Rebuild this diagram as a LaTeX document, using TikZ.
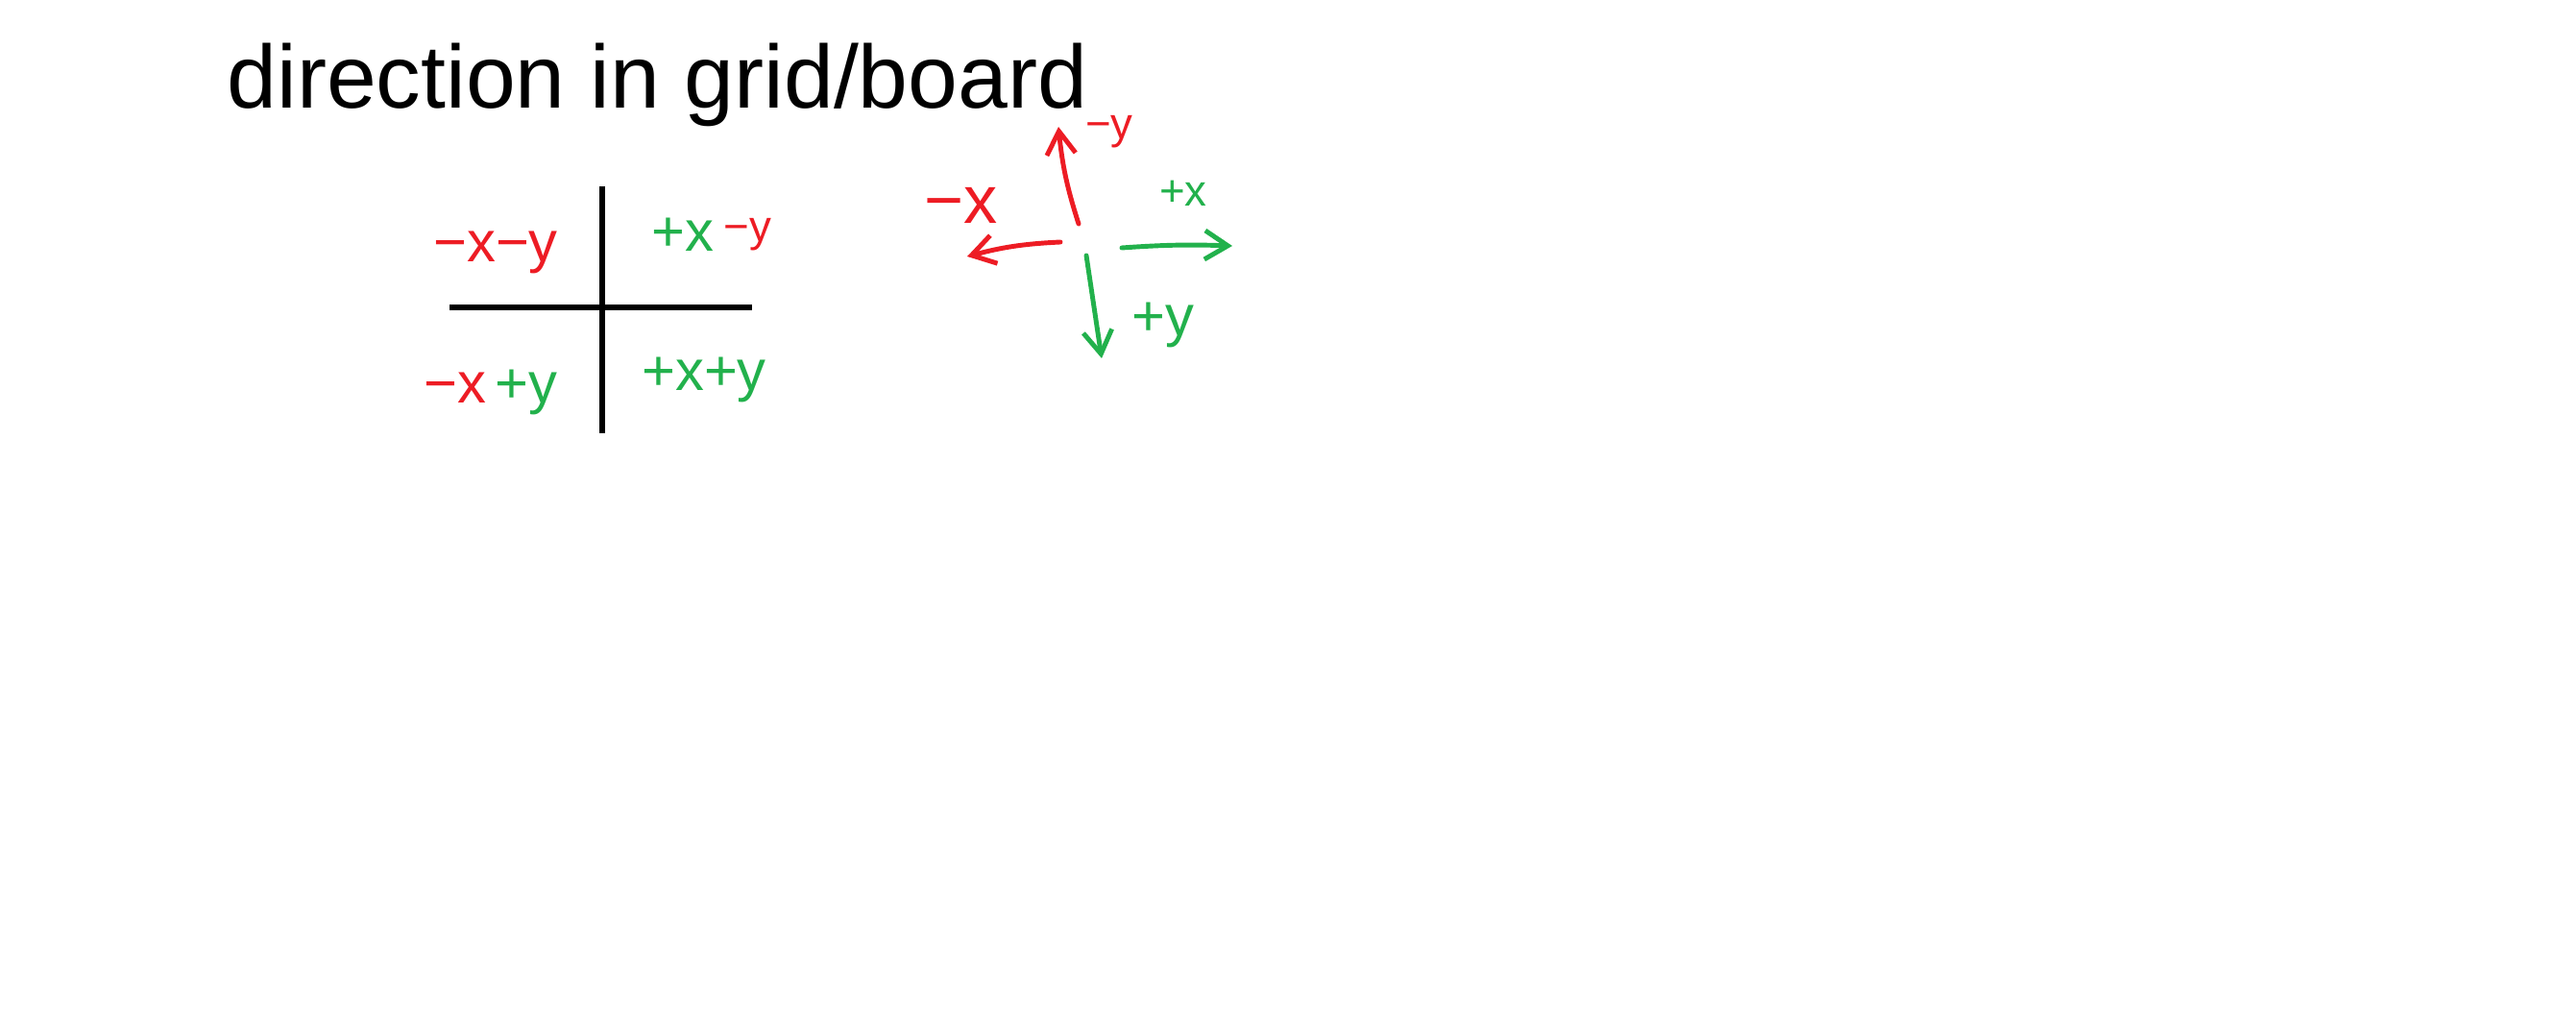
\documentclass[tikz,border=0pt]{standalone}
\usepackage{fontspec}
\setmainfont{Liberation Sans}
\usepackage{xcolor}
\usepackage{tikz}
\usetikzlibrary{arrows.meta}
\definecolor{paintred}{RGB}{237,28,36}
\definecolor{paintgreen}{RGB}{34,177,76}

\begin{document}
\begin{tikzpicture}[
    inkline/.style={line width=1.4pt, line cap=round},
    gridline/.style={line width=1.8pt},
    dirarrow/.style={inkline, -{Straight Barb[length=2.4mm,width=3mm]}},
    quadlabel/.style={inner sep=0pt, anchor=base, font=\fontsize{17}{20}\selectfont},
    smalllabel/.style={inner sep=0pt, anchor=base, font=\fontsize{13}{16}\selectfont}
]
\useasboundingbox[fill=white] (0,0) rectangle (26.82,-10.66);

% title
\node[inner sep=0pt, anchor=base west, font=\fontsize{26.5}{31}\selectfont] (title)
    at (2.36,-1.13) {direction in grid/board};

% quadrant grid
\coordinate (gridtop) at (6.27,-1.94);
\coordinate (gridbottom) at (6.27,-4.51);
\coordinate (gridleft) at (4.68,-3.20);
\coordinate (gridright) at (7.83,-3.20);
\draw[gridline] (gridtop) -- (gridbottom);
\draw[gridline] (gridleft) -- (gridright);

\node[quadlabel, text=paintred] (negxnegy) at (5.16,-2.73) {−x−y};
\node[quadlabel] (posxnegy) at (7.41,-2.62)
    {\textcolor{paintgreen}{+x}\,\textcolor{paintred}{\raisebox{3pt}{\fontsize{13}{16}\selectfont −y}}};
\node[quadlabel] (negxposy) at (5.11,-4.20)
    {\textcolor{paintred}{−x}\,\textcolor{paintgreen}{+y}};
\node[quadlabel, text=paintgreen] (posxposy) at (7.33,-4.07) {+x+y};

% direction arrows
\coordinate (upstart) at (11.23,-2.33);
\coordinate (upend) at (11.02,-1.32);
\coordinate (leftstart) at (11.04,-2.52);
\coordinate (leftend) at (10.07,-2.67);
\coordinate (rightstart) at (11.68,-2.58);
\coordinate (rightend) at (12.83,-2.56);
\coordinate (downstart) at (11.31,-2.66);
\coordinate (downend) at (11.47,-3.73);

\draw[dirarrow, paintred] (upstart) to[bend left=6] (upend);
\draw[dirarrow, paintred] (leftstart) to[bend right=6] (leftend);
\draw[dirarrow, paintgreen] (rightstart) to[bend left=3] (rightend);
\draw[dirarrow, paintgreen] (downstart) -- (downend);

\node[smalllabel, text=paintred] (upylabel) at (11.55,-1.45) {−y};
\node[quadlabel, text=paintred, font=\fontsize{20}{24}\selectfont] (leftxlabel) at (10.01,-2.33) {−x};
\node[smalllabel, text=paintgreen] (rightxlabel) at (12.32,-2.15) {+x};
\node[quadlabel, text=paintgreen] (downylabel) at (12.11,-3.50) {+y};

\end{tikzpicture}
\end{document}
